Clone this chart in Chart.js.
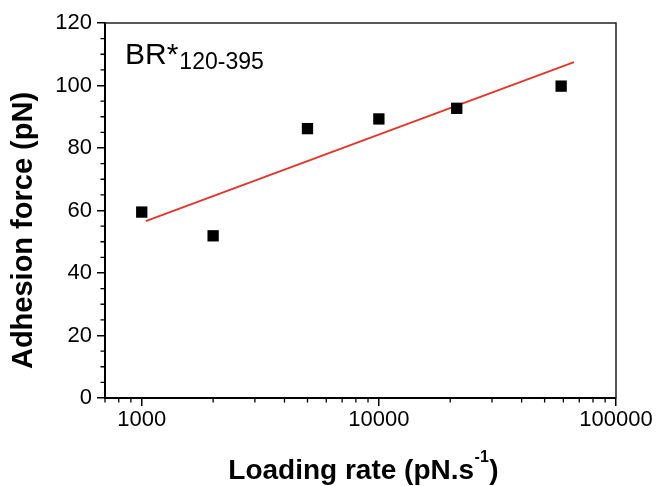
<!DOCTYPE html>
<html><head><meta charset="utf-8">
<script src="https://cdn.jsdelivr.net/npm/chart.js@4/dist/chart.umd.min.js"></script>
<style>html,body{margin:0;padding:0;background:#fff}#wrap{width:659px;height:486px;position:relative}</style>
</head><body><div id="wrap"><canvas id="c"></canvas></div>
<script>
// ---- data ----
const loadingRates = [1000, 2000, 5000, 10000, 21300, 58700];
const adhesionForces = [59.5, 51.9, 86.2, 89.3, 92.7, 99.8];
const fitRates = [1040, 66500];
const fitForces = [56.6, 107.5];
const xTickValues = [700, 800, 900, 1000, 2000, 3000, 4000, 5000, 6000, 7000, 8000, 9000,
  10000, 20000, 30000, 40000, 50000, 60000, 70000, 80000, 90000, 100000];
const xTickLabels = [1000, 10000, 100000];
const yTickValues = [0, 5, 10, 15, 20, 25, 30, 35, 40, 45, 50, 55, 60, 65, 70, 75, 80, 85, 90, 95, 100, 105, 110, 115, 120];
const yTickLabels = [0, 20, 40, 60, 80, 100, 120];
const xTitleMain = 'Loading rate (pN.s';
const xTitleSup = '-1';
const xTitleEnd = ')';
const yTitle = 'Adhesion force (pN)';
const seriesName = 'BR*';
const seriesSub = '120-395';

const FONT = "'Liberation Sans', Arial, Helvetica, sans-serif";

const decor = {
  id: 'decor',
  afterDraw(chart) {
    const {ctx, chartArea: a, scales: {x, y}} = chart;
    ctx.save();
    // top & right frame
    ctx.strokeStyle = '#222';
    ctx.lineWidth = 1.5;
    ctx.beginPath();
    ctx.moveTo(a.left, a.top);
    ctx.lineTo(a.right, a.top);
    ctx.lineTo(a.right, a.bottom);
    ctx.stroke();
    // minor ticks
    ctx.strokeStyle = '#000';
    ctx.lineWidth = 1.3;
    ctx.beginPath();
    x.ticks.forEach(t => {
      if (!xTickLabels.includes(t.value)) {
        const px = x.getPixelForValue(t.value);
        ctx.moveTo(px, a.bottom);
        ctx.lineTo(px, a.bottom + 4.5);
      }
    });
    y.ticks.forEach(t => {
      if (!yTickLabels.includes(t.value)) {
        const py = y.getPixelForValue(t.value);
        ctx.moveTo(a.left - 4.5, py);
        ctx.lineTo(a.left, py);
      }
    });
    ctx.stroke();

    ctx.fillStyle = '#000';
    // x title with superscript
    const mainFont = 'bold 28px ' + FONT;
    const supFont = 'bold 16px ' + FONT;
    ctx.font = mainFont;
    const w1 = ctx.measureText(xTitleMain).width;
    const w3 = ctx.measureText(xTitleEnd).width;
    ctx.font = supFont;
    const w2 = ctx.measureText(xTitleSup).width;
    const total = w1 + w2 + w3 + 1;
    const cx = (a.left + a.right) / 2 + 3;
    let sx = cx - total / 2;
    const base = 479;
    ctx.textAlign = 'left';
    ctx.textBaseline = 'alphabetic';
    ctx.font = mainFont;
    ctx.fillText(xTitleMain, sx, base);
    ctx.font = supFont;
    ctx.fillText(xTitleSup, sx + w1 + 0.5, base - 17);
    ctx.font = mainFont;
    ctx.fillText(xTitleEnd, sx + w1 + w2 + 1, base);

    // y title
    ctx.save();
    ctx.translate(24, (a.top + a.bottom) / 2 + 20);
    ctx.rotate(-Math.PI / 2);
    ctx.font = 'bold 29px ' + FONT;
    ctx.textAlign = 'center';
    ctx.textBaseline = 'middle';
    ctx.fillText(yTitle, 0, 0);
    ctx.restore();

    // series label with subscript
    ctx.textAlign = 'left';
    ctx.textBaseline = 'alphabetic';
    ctx.font = '30px ' + FONT;
    const bx = a.left + 20;
    ctx.fillText(seriesName, bx, a.top + 41);
    const bw = ctx.measureText(seriesName).width;
    ctx.font = '23px ' + FONT;
    ctx.fillText(seriesSub, bx + bw + 1, a.top + 46);
    ctx.restore();
  }
};

new Chart(document.getElementById('c'), {
  type: 'scatter',
  data: {
    datasets: [
      {
        label: 'BR*120-395',
        data: loadingRates.map((r, i) => ({x: r, y: adhesionForces[i]})),
        pointStyle: 'rect',
        pointRadius: 8,
        pointHoverRadius: 8,
        backgroundColor: '#000',
        borderColor: '#000',
        borderWidth: 0
      },
      {
        label: 'Linear fit',
        type: 'line',
        data: fitRates.map((r, i) => ({x: r, y: fitForces[i]})),
        borderColor: '#e8332b',
        borderWidth: 1.8,
        pointRadius: 0,
        fill: false,
        showLine: true
      }
    ]
  },
  plugins: [decor],
  options: {
    responsive: true,
    maintainAspectRatio: false,
    animation: false,
    layout: {padding: {top: 23, right: 43, bottom: 0, left: 0}},
    plugins: {legend: {display: false}, tooltip: {enabled: false}},
    scales: {
      x: {
        type: 'logarithmic',
        position: 'bottom',
        min: 700,
        max: 100000,
        afterBuildTicks: s => { s.ticks = xTickValues.map(v => ({value: v, major: xTickLabels.includes(v)})); },
        afterFit: s => { s.height = 88; },
        grid: {
          drawOnChartArea: false,
          drawTicks: true,
          tickLength: 8,
          lineWidth: 1.5,
          color: c => (c.tick && xTickLabels.includes(c.tick.value)) ? '#000' : 'rgba(0,0,0,0)'
        },
        border: {display: true, color: '#000', width: 2},
        ticks: {
          autoSkip: false,
          maxRotation: 0,
          padding: 1,
          color: '#000',
          font: {family: FONT, size: 22},
          callback: v => xTickLabels.includes(v) ? String(v) : ''
        }
      },
      y: {
        type: 'linear',
        min: 0,
        max: 120,
        afterBuildTicks: s => { s.ticks = yTickValues.map(v => ({value: v})); },
        afterFit: s => { s.width = 105; },
        grid: {
          drawOnChartArea: false,
          drawTicks: true,
          tickLength: 8,
          lineWidth: 1.5,
          color: c => (c.tick && yTickLabels.includes(c.tick.value)) ? '#000' : 'rgba(0,0,0,0)'
        },
        border: {display: true, color: '#000', width: 2},
        ticks: {
          autoSkip: false,
          padding: 5,
          color: '#000',
          font: {family: FONT, size: 22},
          callback: v => yTickLabels.includes(v) ? String(v) : ''
        }
      }
    }
  }
});
</script>
</body></html>
